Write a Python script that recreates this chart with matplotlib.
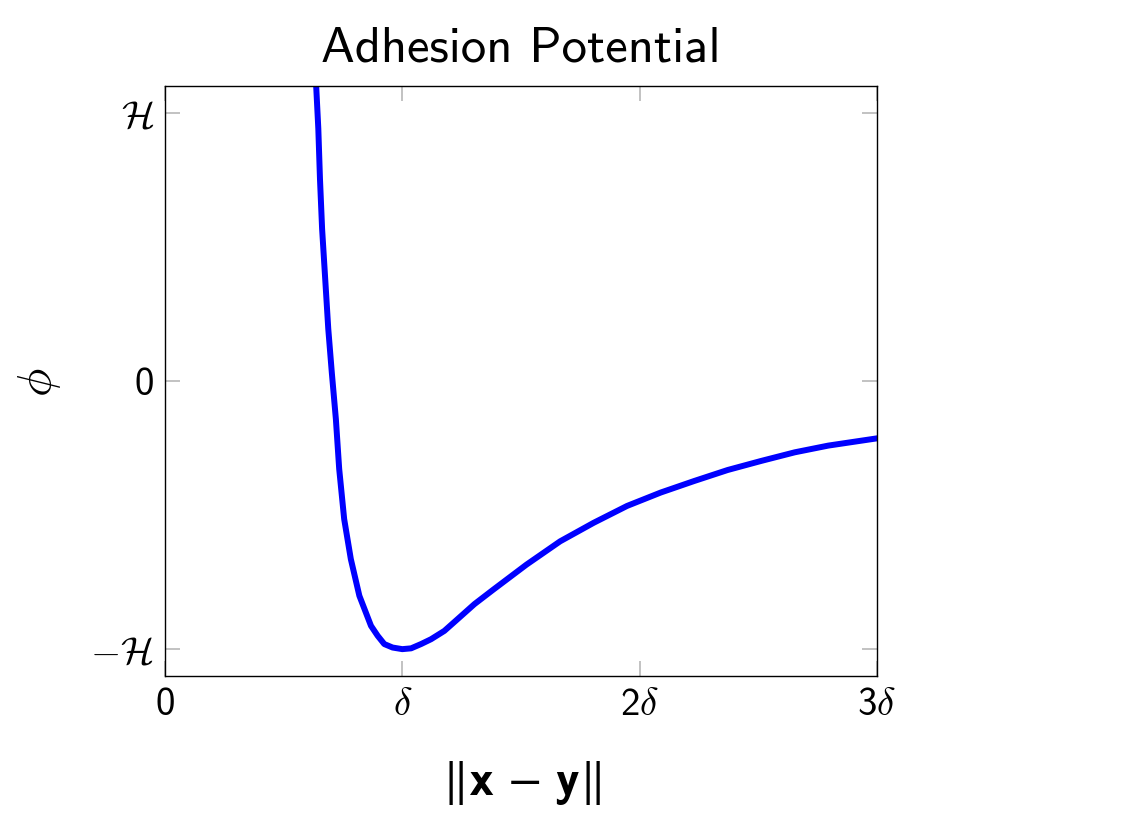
import matplotlib
matplotlib.use('Agg')
import matplotlib.pyplot as plt

# distance in units of delta, potential in units of H
dist = [0.637, 0.646, 0.653, 0.662, 0.675, 0.688, 0.703, 0.720, 0.734, 0.755,
        0.783, 0.819, 0.868, 0.896, 0.924, 0.959, 1.0, 1.037, 1.079, 1.121,
        1.177, 1.233, 1.304, 1.382, 1.523, 1.665, 1.806, 1.947, 2.089, 2.230,
        2.371, 2.513, 2.654, 2.795, 3.0]
phi = [1.10, 0.941, 0.754, 0.567, 0.381, 0.194, 0.03, -0.142, -0.328, -0.515,
       -0.664, -0.801, -0.913, -0.950, -0.981, -0.994, -1.0, -0.997, -0.981, -0.963,
       -0.932, -0.888, -0.832, -0.779, -0.685, -0.598, -0.529, -0.466, -0.416, -0.373,
       -0.332, -0.298, -0.266, -0.241, -0.214]

xticks = [0, 1, 2, 3]
xticklabels = ['0', r'$\delta$', r'2$\delta$', r'3$\delta$']
yticks = [-1, 0, 1]
yticklabels = [r'$-\mathcal{H}$', '0', r'$\mathcal{H}$']

plt.rcParams['mathtext.fontset'] = 'cm'
plt.rcParams['font.family'] = 'cmss10'

fig = plt.figure(figsize=(11.24, 8.29), dpi=100)
ax = fig.add_axes([0.1468, 0.1834, 0.6334, 0.7117])

ax.plot(dist, phi, color='blue', linewidth=4.3, solid_joinstyle='round')

ax.set_xlim(0, 3)
ax.set_ylim(-1.1, 1.1)
ax.set_xticks(xticks)
ax.set_xticklabels(xticklabels)
ax.set_yticks(yticks)
ax.set_yticklabels(yticklabels)

ax.tick_params(direction='in', length=11, width=1.3, color='#bdbdbd',
               top=True, right=True, labelsize=28, pad=8)
for s in ax.spines.values():
    s.set_linewidth(1.0)

ax.set_title('Adhesion Potential', fontsize=36.5, pad=18)
ax.set_xlabel(r'$\|\mathbf{x}\,-\,\mathbf{y}\|$', fontsize=36, labelpad=26,
              math_fontfamily='stixsans')
ax.set_ylabel(r'$\phi$', fontsize=34, labelpad=20)

fig.savefig('out.png', dpi=100)
